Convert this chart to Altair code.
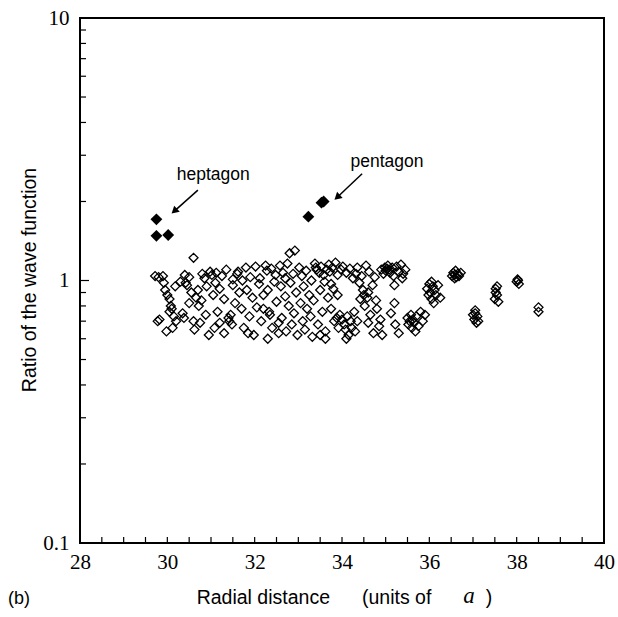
import altair as alt
import pandas as pd

# ---- data ----
open_x = [
    29.72, 29.80, 29.90, 29.78, 29.82, 29.95, 30.00, 30.05, 30.08, 29.98, 30.12, 30.05, 30.15, 30.10, 29.92, 30.18, 30.20,
    30.30, 30.40, 30.42, 30.45, 30.35, 30.38, 30.50, 30.55, 30.60, 30.62, 30.66, 30.70, 30.72, 30.75, 30.80, 30.85, 30.90,
    30.88, 30.95, 30.98, 30.60, 30.50, 30.78,
    31.02, 31.05, 31.10, 31.12, 31.15, 31.20, 31.25, 31.30, 31.35, 31.40, 31.42, 31.45, 31.48, 31.50, 31.55, 31.60, 31.62,
    31.65, 31.70, 31.72, 31.75, 31.80, 31.82, 31.85, 31.88, 31.90, 31.95, 31.98, 31.30, 31.20, 31.08, 31.50,
    32.02, 32.05, 32.10, 32.12, 32.15, 32.20, 32.25, 32.28, 32.30, 32.33, 32.35, 32.38, 32.40, 32.45, 32.48, 32.50, 32.55,
    32.58, 32.60, 32.62, 32.65, 32.70, 32.72, 32.75, 32.78, 32.80, 32.82, 32.85, 32.88, 32.90, 32.92, 32.95, 32.98, 32.30,
    32.55, 32.20, 32.70,
    33.02, 33.05, 33.08, 33.10, 33.12, 33.15, 33.18, 33.20, 33.25, 33.28, 33.30, 33.32, 33.35, 33.38, 33.40, 33.42, 33.45,
    33.48, 33.50, 33.52, 33.55, 33.58, 33.60, 33.62, 33.65, 33.68, 33.70, 33.72, 33.75, 33.78, 33.80, 33.82, 33.85, 33.88,
    33.90, 33.92, 33.95, 33.98, 33.50, 33.62, 33.75, 33.90,
    34.00, 34.02, 34.05, 34.08, 34.10, 34.12, 34.15, 34.18, 34.20, 34.22, 34.25, 34.28, 34.30, 34.32, 34.35, 34.40, 34.45,
    34.48, 34.50, 34.52, 34.55, 34.58, 34.60, 34.62, 34.65, 34.70, 34.72, 34.75, 34.78, 34.80, 34.85, 34.88, 34.90, 34.92,
    34.95, 34.98, 34.10, 34.35, 34.42, 34.60,
    35.00, 35.03, 35.05, 35.08, 35.10, 35.12, 35.15, 35.18, 35.20, 35.22, 35.25, 35.30, 35.35, 35.38, 35.40, 35.45, 35.50,
    35.52, 35.55, 35.58, 35.60, 35.62, 35.65, 35.68, 35.70, 35.75, 35.80, 35.85, 35.90, 35.95, 35.98, 35.20, 35.30,
    36.00, 36.02, 36.05, 36.08, 36.10, 36.12, 36.15, 36.20, 36.25, 36.05,
    36.52, 36.55, 36.58, 36.60, 36.62, 36.65, 36.68, 36.72, 36.58,
    37.00, 37.03, 37.05, 37.08, 37.10, 37.12, 37.05,
    37.50, 37.52, 37.55, 37.55, 37.58, 37.52,
    38.00, 38.02, 38.05, 38.03,
    38.50, 38.50,
]
open_y = [
    1.04, 1.03, 1.04, 0.70, 0.71, 0.92, 0.88, 0.85, 0.80, 0.64, 0.66, 0.76, 0.73, 0.78, 0.98, 0.95, 0.70,
    0.99, 1.05, 0.98, 0.96, 0.75, 0.72, 0.82, 0.90, 1.22, 0.65, 0.86, 0.92, 0.80, 0.69, 1.06, 1.02, 0.95,
    0.74, 0.62, 1.08, 0.70, 1.03, 0.84,
    1.05, 0.88, 0.98, 1.07, 0.76, 0.93, 1.04, 0.85, 1.10, 0.72, 0.70, 0.74, 0.68, 0.96, 0.82, 1.06, 1.08,
    0.90, 0.78, 1.00, 0.66, 1.12, 0.92, 0.63, 0.73, 1.03, 0.86, 0.62, 0.63, 0.69, 0.66, 1.01,
    1.13, 0.79, 0.97, 1.02, 0.70, 0.88, 1.14, 1.09, 0.92, 0.76, 0.74, 1.11, 0.66, 0.99, 1.05, 0.83, 0.69,
    1.14, 0.95, 0.72, 1.07, 0.87, 0.64, 1.16, 0.80, 1.27, 0.98, 0.68, 1.06, 0.75, 1.30, 0.90, 0.62, 0.60,
    0.63, 0.78, 1.02,
    1.12, 0.82, 1.04, 0.70, 0.95, 0.65, 1.09, 0.78, 0.88, 0.73, 1.00, 0.61, 0.84, 1.16, 1.12, 1.10, 0.68,
    1.07, 0.92, 1.13, 0.76, 1.05, 0.99, 0.64, 1.10, 0.86, 1.15, 1.08, 0.97, 1.12, 0.93, 0.70, 1.17, 0.72,
    1.05, 0.66, 0.74, 1.10, 0.62, 0.60, 0.78, 0.88,
    0.71, 1.13, 0.68, 0.65, 1.07, 0.73, 0.62, 1.11, 0.70, 0.66, 1.02, 0.76, 0.64, 1.06, 1.12, 0.98, 1.04,
    0.92, 0.88, 0.80, 1.14, 0.86, 0.69, 1.08, 0.74, 0.96, 0.63, 1.03, 0.84, 0.78, 0.67, 0.71, 1.10, 0.62,
    1.06, 1.12, 0.60, 0.70, 0.85, 0.90,
    1.09, 1.11, 1.14, 1.10, 1.07, 0.75, 1.12, 1.04, 0.96, 0.68, 1.13, 1.08, 1.15, 1.02, 1.06, 1.10, 0.72,
    0.68, 0.70, 0.74, 0.66, 0.71, 0.69, 0.64, 0.73, 0.67, 0.76, 0.70, 0.74, 0.93, 0.88, 0.82, 0.63,
    0.97, 0.90, 0.85, 0.95, 0.82, 0.92, 0.88, 0.96, 0.86, 0.99,
    1.04, 1.07, 1.05, 1.09, 1.03, 1.06, 1.04, 1.07, 1.02,
    0.74, 0.71, 0.77, 0.69, 0.73, 0.70, 0.75,
    0.85, 0.93, 0.88, 0.95, 0.83, 0.90,
    0.99, 1.01, 0.97, 1.00,
    0.79, 0.76,
]
filled_x = [29.75, 29.75, 30.02, 33.23, 33.53, 33.58]
filled_y = [1.71, 1.48, 1.49, 1.75, 1.98, 2.00]

label_text = ["heptagon", "pentagon"]
label_x = [31.05, 35.03]
label_y = [2.52, 2.83]

arrow_x1 = [30.70, 34.46]
arrow_y1 = [2.21, 2.55]
arrow_x2 = [30.18, 33.91]
arrow_y2 = [1.85, 2.09]

x_ticks = [28 + 0.5 * i for i in range(25)]
y_minor = [0.2, 0.3, 0.4, 0.5, 0.6, 0.7, 0.8, 0.9, 2, 3, 4, 5, 6, 7, 8, 9]
y_major = [1]
x_labels = [28, 30, 32, 34, 36, 38, 40]
y_labels = [0.1, 1, 10]

W, H = 524, 525
SERIF = "Liberation Serif"
SANS = "Liberation Sans"

xs = alt.Scale(domain=[28, 40], nice=False, zero=False)
ys = alt.Scale(type="log", domain=[0.1, 10], nice=False)

x_axis = alt.Axis(values=x_labels, ticks=False, domain=False, grid=False, title=None,
                  labelFont=SERIF, labelFontSize=21, labelColor="black", labelPadding=8,
                  labelFlush=False, format="d")
y_axis = alt.Axis(values=y_labels, ticks=False, domain=False, grid=False, title=None,
                  labelFont=SERIF, labelFontSize=21, labelColor="black", labelPadding=11,
                  labelFlush=False, format="~g")

df_open = pd.DataFrame({"x": open_x, "y": open_y})
df_fill = pd.DataFrame({"x": filled_x, "y": filled_y})
df_lab = pd.DataFrame({"x": label_x, "y": label_y, "t": label_text})
df_arr = pd.DataFrame({"x": arrow_x1, "y": arrow_y1, "x2": arrow_x2, "y2": arrow_y2})

base_open = alt.Chart(df_open).mark_point(
    shape="diamond", filled=False, stroke="black", strokeWidth=1.3, size=80, opacity=1
).encode(
    x=alt.X("x:Q", scale=xs, axis=x_axis),
    y=alt.Y("y:Q", scale=ys, axis=y_axis),
)

filled = alt.Chart(df_fill).mark_point(
    shape="diamond", filled=True, color="black", size=140, opacity=1
).encode(x=alt.X("x:Q", scale=xs), y=alt.Y("y:Q", scale=ys))

labels = alt.Chart(df_lab).mark_text(
    font=SANS, fontSize=17.5, color="black", align="center", baseline="middle"
).encode(x=alt.X("x:Q", scale=xs), y=alt.Y("y:Q", scale=ys), text="t:N")

arrow_lines = alt.Chart(df_arr).mark_rule(color="black", strokeWidth=1.5).encode(
    x=alt.X("x:Q", scale=xs), y=alt.Y("y:Q", scale=ys),
    x2="x2:Q", y2="y2:Q",
)
arrow_heads = alt.Chart(df_arr).mark_point(
    shape="triangle", filled=True, color="black", size=70, opacity=1
).encode(x=alt.X("x2:Q", scale=xs), y=alt.Y("y2:Q", scale=ys), angle=alt.value(228))

df_xt = pd.DataFrame({"v": x_ticks})
xt = alt.Chart(df_xt).mark_rule(color="black", strokeWidth=1.2).encode(
    x=alt.X("v:Q", scale=xs), y=alt.value(H), y2=alt.value(H - 6))

df_ytm = pd.DataFrame({"v": y_minor})
ytm = alt.Chart(df_ytm).mark_rule(color="black", strokeWidth=1.2).encode(
    y=alt.Y("v:Q", scale=ys), x=alt.value(0), x2=alt.value(6))
df_ytM = pd.DataFrame({"v": y_major})
ytM = alt.Chart(df_ytM).mark_rule(color="black", strokeWidth=1.2).encode(
    y=alt.Y("v:Q", scale=ys), x=alt.value(0), x2=alt.value(9))

# axis titles as text
df_one = pd.DataFrame({"k": [0]})
ytitle = alt.Chart(df_one).mark_text(
    text="Ratio of the wave function", font=SANS, fontSize=19.5, angle=270,
    align="center", baseline="middle", color="black"
).encode(x=alt.value(-50), y=alt.value(262))
xtitle1 = alt.Chart(df_one).mark_text(
    text="Radial distance", font=SANS, fontSize=19.5,
    align="right", baseline="middle", color="black"
).encode(x=alt.value(250), y=alt.value(580))
xtitle2 = alt.Chart(df_one).mark_text(
    text="(units of", font=SANS, fontSize=19.5,
    align="left", baseline="middle", color="black"
).encode(x=alt.value(282), y=alt.value(580))
xtitle_a = alt.Chart(df_one).mark_text(
    text="a", font=SERIF, fontSize=23, fontStyle="italic",
    align="center", baseline="middle", color="black"
).encode(x=alt.value(389), y=alt.value(578))
xtitle_p = alt.Chart(df_one).mark_text(
    text=")", font=SANS, fontSize=19.5,
    align="center", baseline="middle", color="black"
).encode(x=alt.value(409), y=alt.value(580))
blabel = alt.Chart(df_one).mark_text(
    text="(b)", font=SANS, fontSize=18,
    align="left", baseline="middle", color="black"
).encode(x=alt.value(-72), y=alt.value(581))

chart = alt.layer(
    base_open, filled, arrow_lines, arrow_heads, labels, xt, ytm, ytM,
    ytitle, xtitle1, xtitle2, xtitle_a, xtitle_p, blabel
).properties(
    width=W, height=H, autosize="none",
    padding={"left": 80, "top": 18, "right": 14, "bottom": 74},
    background="white",
).configure_view(stroke="black", strokeWidth=2)

chart.save("out.html", embed_options={"renderer": "svg", "actions": False})
